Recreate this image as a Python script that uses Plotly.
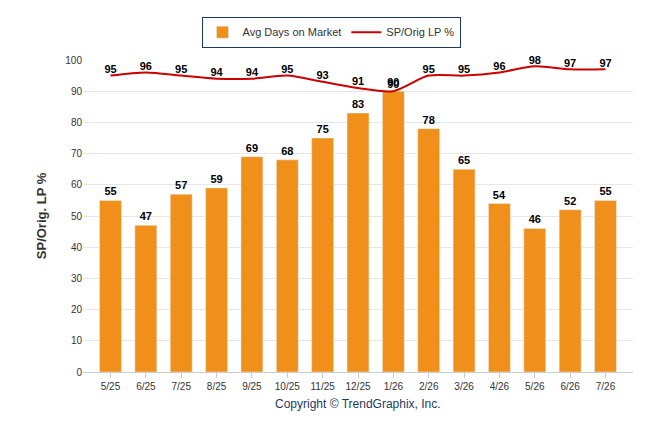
import plotly.graph_objects as go

months = ["5/25", "6/25", "7/25", "8/25", "9/25", "10/25", "11/25", "12/25",
          "1/26", "2/26", "3/26", "4/26", "5/26", "6/26", "7/26"]
days_on_market = [55, 47, 57, 59, 69, 68, 75, 83, 90, 78, 65, 54, 46, 52, 55]
sp_orig_lp = [95, 96, 95, 94, 94, 95, 93, 91, 90, 95, 95, 96, 98, 97, 97]

fig = go.Figure()
fig.add_trace(go.Bar(
    x=months, y=days_on_market, name="Avg Days on Market",
    marker_color="#F0901A", width=0.62,
    text=["<b>%d</b>" % v for v in days_on_market], textposition="outside",
    textfont=dict(family="Arial", size=11, color="black"),
    cliponaxis=False,
))
fig.add_trace(go.Scatter(
    x=months, y=sp_orig_lp, name="SP/Orig LP %", mode="lines+text",
    line=dict(color="#CC0000", width=2, shape="spline", smoothing=0.8),
    text=["<b>%d</b>" % v for v in sp_orig_lp], textposition="top center",
    textfont=dict(family="Arial", size=11, color="black"),
    cliponaxis=False,
))

fig.update_layout(
    width=646, height=434,
    plot_bgcolor="white", paper_bgcolor="white",
    margin=dict(l=75, r=21, t=52, b=70, autoexpand=False),
    font=dict(family="Arial", size=10, color="#333"),
    uniformtext=dict(minsize=11, mode="show"),
    legend=dict(
        orientation="h", x=0.5, xanchor="center", xref="container",
        y=0.98, yanchor="top", yref="container",
        bordercolor="#1F3A5F", borderwidth=1, font=dict(size=11, color="#333"),
    ),
    showlegend=True,
    xaxis=dict(showgrid=False, showline=True, linecolor="#ccc",
               ticks="outside", tickcolor="#ccc", tickfont=dict(size=10, color="#333")),
    yaxis=dict(range=[0, 100], dtick=10, showgrid=True, gridcolor="#e6e6e6",
               zeroline=False, tickfont=dict(size=10, color="#333"),
               title=dict(text="<b>SP/Orig. LP %</b>", font=dict(size=13, color="#333"))),
    annotations=[dict(text="Copyright © TrendGraphix, Inc.", xref="paper", yref="paper",
                      x=0.5, y=-0.075, yanchor="top", showarrow=False,
                      font=dict(size=12, color="#1F3A5F"))],
)

fig.write_html("out.html")
